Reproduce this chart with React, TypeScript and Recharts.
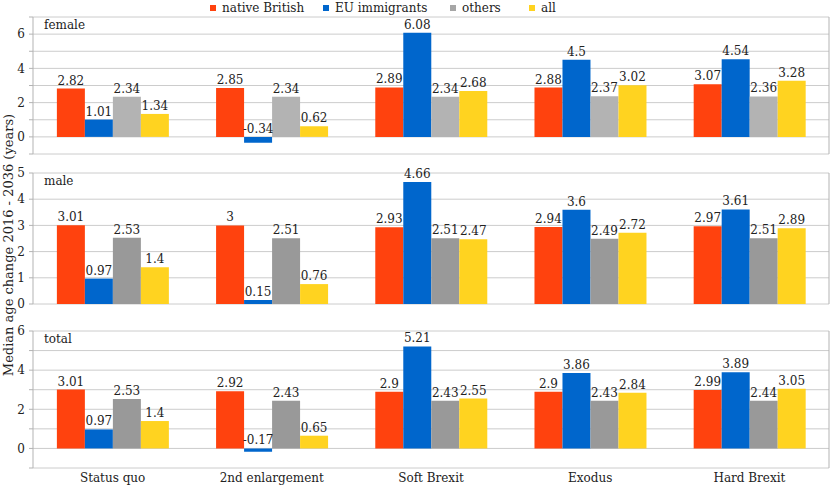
import { BarChart, Bar, XAxis, YAxis, CartesianGrid, LabelList } from 'recharts';

const categories = ['Status quo', '2nd enlargement', 'Soft Brexit', 'Exodus', 'Hard Brexit'];

const femaleNative = [2.82, 2.85, 2.89, 2.88, 3.07];
const femaleEU = [1.01, -0.34, 6.08, 4.5, 4.54];
const femaleOthers = [2.34, 2.34, 2.34, 2.37, 2.36];
const femaleAll = [1.34, 0.62, 2.68, 3.02, 3.28];

const maleNative = [3.01, 3, 2.93, 2.94, 2.97];
const maleEU = [0.97, 0.15, 4.66, 3.6, 3.61];
const maleOthers = [2.53, 2.51, 2.51, 2.49, 2.51];
const maleAll = [1.4, 0.76, 2.47, 2.72, 2.89];

const totalNative = [3.01, 2.92, 2.9, 2.9, 2.99];
const totalEU = [0.97, -0.17, 5.21, 3.86, 3.89];
const totalOthers = [2.53, 2.43, 2.43, 2.43, 2.44];
const totalAll = [1.4, 0.65, 2.55, 2.84, 3.05];

const femaleTicks = [-1, 0, 1, 2, 3, 4, 5, 6, 7];
const maleTicks = [0, 1, 2, 3, 4, 5];
const totalTicks = [-1, 0, 1, 2, 3, 4, 5, 6];

const seriesNames = ['native British', 'EU immigrants', 'others', 'all'];
const seriesKeys = ['native', 'eu', 'others', 'all'];

const FONT = '"DejaVu Serif", serif';
const GRID = '#cccccc';
const AXIS = '#b3b3b3';
const TEXT = '#222222';

// legend item left edges (page px)
const legendLeft = [210, 323, 450, 529];

function buildRows(native: number[], eu: number[], others: number[], all: number[]) {
  return categories.map((name, i) => ({ name, native: native[i], eu: eu[i], others: others[i], all: all[i] }));
}

const renderValue = (props: any) => {
  const { x, y, width, height, value } = props;
  const top = Math.min(y, y + height);
  return (
    <text x={x + width / 2} y={top - 4} textAnchor="middle" fontSize={12} fontFamily={FONT} fill={TEXT}>
      {value}
    </text>
  );
};

interface PanelProps {
  rows: Array<Record<string, unknown>>;
  label: string;
  top: number;
  height: number;
  margin: { top: number; right: number; bottom: number; left: number };
  ticks: number[];
  showEven: boolean;
  colors: string[];
  showX?: boolean;
}

function Panel({ rows, label, top, height, margin, ticks, showEven, colors, showX = false }: PanelProps) {
  return (
    <div style={{ position: 'absolute', left: 0, top, width: 830, height }}>
      <BarChart width={830} height={height} data={rows} margin={margin} barCategoryGap="15%" barGap={0}>
        <CartesianGrid vertical={false} stroke={GRID} />
        <XAxis
          dataKey="name"
          hide={!showX}
          axisLine={false}
          tickLine={false}
          tickSize={0}
          tickMargin={5}
          height={20}
          interval={0}
          tick={{ fill: TEXT, fontSize: 12, fontFamily: FONT }}
        />
        <YAxis
          width={33}
          domain={[ticks[0], ticks[ticks.length - 1]]}
          ticks={ticks}
          interval={0}
          allowDataOverflow
          stroke={AXIS}
          tickSize={4}
          tickMargin={4}
          tick={{ fill: TEXT, fontSize: 12, fontFamily: FONT }}
          tickFormatter={(v: number) => (showEven && v % 2 !== 0 ? '' : v < 0 ? '' : String(v))}
        />
        <YAxis yAxisId="r" orientation="right" width={1} tick={false} tickLine={false} stroke={AXIS} />
        {seriesKeys.map((key, i) => (
          <Bar key={key} dataKey={key} fill={colors[i]} isAnimationActive={false}>
            <LabelList dataKey={key} content={renderValue} />
          </Bar>
        ))}
      </BarChart>
      <div style={{ position: 'absolute', left: 44, top: margin.top + 1, fontFamily: FONT, fontSize: 12, color: TEXT, lineHeight: '14px' }}>
        {label}
      </div>
    </div>
  );
}

const lightColors = ['#ff420e', '#0066cc', '#b3b3b3', '#ffd320'];
const darkColors = ['#ff420e', '#0066cc', '#999999', '#ffd320'];

export default function App() {
  return (
    <div style={{ position: 'absolute', left: 0, top: 0, width: 830, height: 488, background: '#fff', fontFamily: FONT }}>
      {seriesNames.map((name, i) => (
        <div
          key={name}
          style={{ position: 'absolute', left: legendLeft[i], top: 1, display: 'flex', alignItems: 'center', fontSize: 12, color: TEXT, lineHeight: '14px', whiteSpace: 'nowrap' }}
        >
          <span style={{ display: 'inline-block', width: 6, height: 6, background: i === 2 ? '#a6a6a6' : lightColors[i], marginRight: 6 }} />
          <span>{name}</span>
        </div>
      ))}
      <Panel
        rows={buildRows(femaleNative, femaleEU, femaleOthers, femaleAll)}
        label="female"
        top={0}
        height={160}
        margin={{ top: 17, right: 0, bottom: 6, left: 0 }}
        ticks={femaleTicks}
        showEven
        colors={lightColors}
      />
      <Panel
        rows={buildRows(maleNative, maleEU, maleOthers, maleAll)}
        label="male"
        top={155}
        height={155}
        margin={{ top: 18, right: 0, bottom: 6, left: 0 }}
        ticks={maleTicks}
        showEven={false}
        colors={darkColors}
      />
      <Panel
        rows={buildRows(totalNative, totalEU, totalOthers, totalAll)}
        label="total"
        top={310}
        height={178}
        margin={{ top: 21, right: 0, bottom: 0, left: 0 }}
        ticks={totalTicks}
        showEven
        colors={darkColors}
        showX
      />
      <div
        style={{
          position: 'absolute',
          left: 8,
          top: 245,
          transform: 'translate(-50%, -50%) rotate(-90deg)',
          whiteSpace: 'nowrap',
          fontSize: 13,
          color: TEXT,
        }}
      >
        Median age change 2016 - 2036 (years)
      </div>
    </div>
  );
}
